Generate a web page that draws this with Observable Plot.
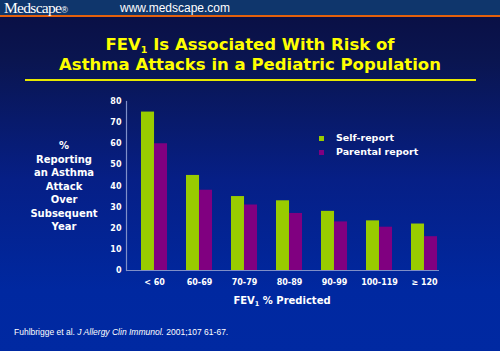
<!DOCTYPE html>
<html><head><meta charset="utf-8">
<script src="https://cdn.jsdelivr.net/npm/d3@7"></script>
<script src="https://cdn.jsdelivr.net/npm/@observablehq/plot@0.6"></script>
<style>
html,body{margin:0;padding:0;}
body{width:500px;height:351px;overflow:hidden;position:relative;
 background:linear-gradient(to bottom,#0a1046 0px,#0a1046 18px,#0a1550 60px,#061f86 180px,#0028a0 290px,#0029a2 351px);
 font-family:"DejaVu Sans",sans-serif;color:#fff;}
#hdr{position:absolute;left:0;top:0;width:500px;height:15px;background:#0f366c;border-bottom:2px solid #e4600c;}
#logo{position:absolute;left:4px;top:0px;font-family:"Liberation Serif",serif;font-size:15.5px;line-height:15px;letter-spacing:-0.7px;}
#logo small{font-size:9px;letter-spacing:0;font-family:"Liberation Sans",sans-serif;}
#url{position:absolute;left:120px;top:1px;font-family:"Liberation Sans",Arial,sans-serif;font-size:12px;line-height:14px;}
#title{position:absolute;left:0;top:35px;width:500px;text-align:center;color:#ffff00;font-weight:bold;font-size:16.5px;line-height:20px;}
#title sub{font-size:9.5px;vertical-align:-3px;line-height:0;}
#rule{position:absolute;left:25px;top:79px;width:451px;height:1.5px;background:#e8e800;}
#ylab{position:absolute;left:14px;top:139px;width:100px;text-align:center;font-weight:bold;font-size:10px;line-height:13.5px;}
#legend{position:absolute;left:319px;top:131px;font-weight:bold;font-size:9.5px;line-height:14px;}
#legend div{position:relative;padding-left:17px;}
#legend span{position:absolute;left:0;top:4.5px;width:5px;height:5px;}
#xlab{position:absolute;left:0;top:295px;width:564px;text-align:center;font-weight:bold;font-size:10px;}
#xlab sub{font-size:6.5px;vertical-align:-2px;line-height:0;}
#cite{position:absolute;left:14px;top:327px;font-family:"Liberation Sans",Arial,sans-serif;font-size:8.5px;}
#chart{position:absolute;left:0;top:90px;}
</style></head>
<body>
<div id="hdr"><div id="logo">Medscape<small>®</small></div><div id="url">www.medscape.com</div></div>
<div id="title">FEV<sub>1</sub> Is Associated With Risk of<br>Asthma Attacks in a Pediatric Population</div>
<div id="rule"></div>
<div id="ylab">%<br>Reporting<br>an Asthma<br>Attack<br>Over<br>Subsequent<br>Year</div>
<div id="legend"></div>
<div id="chart"></div>
<div id="xlab">FEV<sub>1</sub> % Predicted</div>
<div id="cite">Fuhlbrigge et al. <i>J Allergy Clin Immunol.</i> 2001;107 61-67.</div>
<script>
const categories = ["< 60","60-69","70-79","80-89","90-99","100-119","≥ 120"];
const seriesNames = ["Self-report","Parental report"];
const seriesColors = ["#99cc00","#800080"];
const selfReport = [75,45,35,33,28,23.5,22];
const parentalReport = [60,38,31,27,23,20.5,16];
const yTicks = [0,10,20,30,40,50,60,70,80];

const selfData = categories.map((c,i)=>({cat:c, value:selfReport[i]}));
const parData = categories.map((c,i)=>({cat:c, value:parentalReport[i]}));

const W = 500, H = 225, mL = 126, mR = 61;
const pi = 0.43, po = 0.154;
const step = (W - mL - mR) / (categories.length - pi + 2*po);
const bw = step * (1 - pi);
const half = bw / 2;

const chart = Plot.plot({
  width: W, height: H,
  marginLeft: mL, marginRight: mR, marginTop: 11, marginBottom: 45,
  style: {background:"transparent", color:"#fff", fontFamily:"DejaVu Sans, sans-serif", fontSize:"8px", fontWeight:"bold", overflow:"visible"},
  x: {domain: categories, paddingInner: pi, paddingOuter: po, align: 0.86, label: null, tickSize: 0, tickPadding: 9},
  y: {domain: [0,80], ticks: yTicks, label: null, tickSize: 0, tickPadding: 5},
  marks: [
    Plot.barY(selfData, {x:"cat", y:"value", fill: seriesColors[0], insetRight: half}),
    Plot.barY(parData, {x:"cat", y:"value", fill: seriesColors[1], insetLeft: half}),
    Plot.ruleY([0], {stroke:"#7f8fc8", strokeWidth:1.2}),
    Plot.frame({anchor:"left", stroke:"#7f8fc8", strokeWidth:1.2})
  ]
});
document.getElementById("chart").appendChild(chart);

const leg = document.getElementById("legend");
seriesNames.forEach((n,i)=>{
  const d = document.createElement("div");
  const s = document.createElement("span");
  s.style.background = seriesColors[i];
  d.appendChild(s);
  d.appendChild(document.createTextNode(n));
  leg.appendChild(d);
});
</script>
</body></html>
